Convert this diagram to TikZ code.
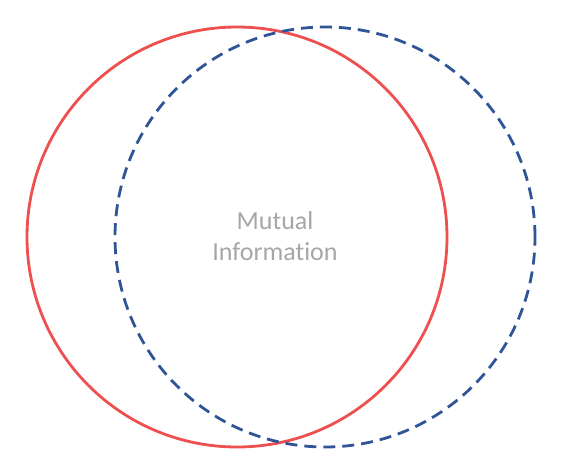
\documentclass[tikz,border=0pt]{standalone}
\usepackage{fontspec}
\setmainfont[Ligatures=NoCommon]{Carlito}
\definecolor{redc}{HTML}{EE4F4F}
\definecolor{bluec}{HTML}{2F5597}
\definecolor{grayt}{HTML}{A6A6A6}
\begin{document}
\begin{tikzpicture}[x=1pt,y=-1pt,
  redcirc/.style={draw=redc,line width=2.8pt},
  bluecirc/.style={draw=bluec,line width=2.8pt,dash pattern=on 12pt off 7pt}]
\useasboundingbox (0,0) rectangle (575,471);
\node[redcirc,circle,minimum size=420pt,inner sep=0pt] (A) at (237,237) {};
\node[bluecirc,circle,minimum size=420pt,inner sep=0pt] (B) at (325,237) {};
\node[text=grayt,font=\fontsize{26}{31}\selectfont,align=center] (T) at (275,236) {Mutual\\Information};
\end{tikzpicture}
\end{document}
